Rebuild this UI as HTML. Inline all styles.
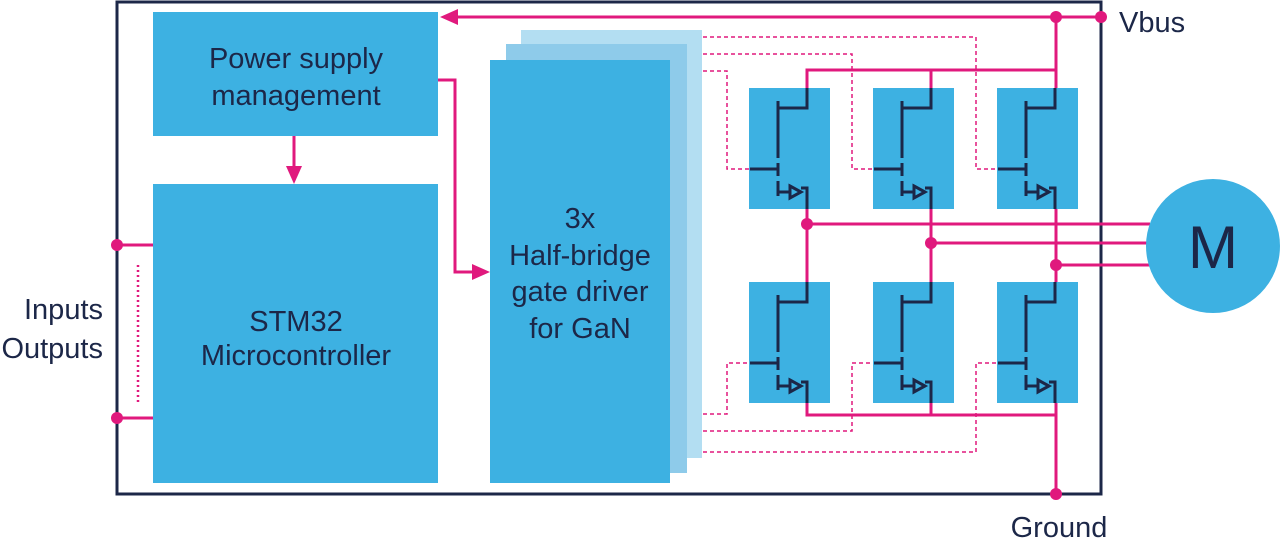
<!DOCTYPE html>
<html><head><meta charset="utf-8"><style>
html,body{margin:0;padding:0;background:#fff;}
svg{display:block;}
text{font-family:"Liberation Sans",sans-serif;fill:#1c2748;}
</style></head><body>
<svg width="1280" height="539" viewBox="0 0 1280 539" xmlns="http://www.w3.org/2000/svg">
<defs>
<g id="tr">
<rect x="0" y="0" width="81" height="121" fill="#3db1e2"/>
<g stroke="#1c2748" stroke-width="3" fill="none">
<path d="M29 13V70"/>
<path d="M29 20H58V0"/>
<path d="M29 75V88"/>
<path d="M1 81H29"/>
<path d="M29 93V108"/>
<path d="M29 104H41"/>
<path d="M41 98L52 104L41 110Z"/>
<path d="M52 100H58V121"/>
</g>
</g>
</defs>
<rect x="117" y="2" width="984" height="492" fill="none" stroke="#1c2748" stroke-width="3"/>
<rect x="521" y="30" width="181" height="428" fill="#b3def2"/>
<rect x="506" y="44" width="181" height="429" fill="#8ecbea"/>
<rect x="490" y="60" width="180" height="423" fill="#3db1e2"/>
<rect x="153" y="12" width="285" height="124" fill="#3db1e2"/>
<rect x="153" y="184" width="285" height="299" fill="#3db1e2"/>
<g stroke="#e0197d" stroke-width="1.5" fill="none" stroke-dasharray="4,3">
<path d="M703 37H976V169H998"/>
<path d="M703 54H852V169H873"/>
<path d="M703 71H727V169H750"/>
<path d="M703 414H727V363H750"/>
<path d="M703 431H852V363H873"/>
<path d="M703 452H976V363H998"/>
</g>
<g stroke="#e0197d" stroke-width="3" fill="none">
<path d="M1101 17H452"/>
<path d="M438 80H455V272H478"/>
<path d="M294 136V170"/>
<path d="M1056 17V88"/>
<path d="M807 88V70H1056"/>
<path d="M931 70V88"/>
<path d="M807 209V282"/>
<path d="M931 209V282"/>
<path d="M1056 209V282"/>
<path d="M807 224H1150"/>
<path d="M931 243H1150"/>
<path d="M1056 265H1150"/>
<path d="M807 403V415H1056V494"/>
<path d="M931 403V415"/>
<path d="M1056 403V415"/>
<path d="M117 245H153"/>
<path d="M117 418H153"/>
</g>
<path d="M138 265V402" stroke="#e0197d" stroke-width="2.5" stroke-dasharray="2,3"/>
<g fill="#e0197d">
<path d="M440 17L458 9V25Z"/>
<path d="M490 272L472 264V280Z"/>
<path d="M294 184L286 166H302Z"/>
<circle cx="1056" cy="17" r="6"/>
<circle cx="1101" cy="17" r="6"/>
<circle cx="807" cy="224" r="6"/>
<circle cx="931" cy="243" r="6"/>
<circle cx="1056" cy="265" r="6"/>
<circle cx="1056" cy="494" r="6"/>
<circle cx="117" cy="245" r="6"/>
<circle cx="117" cy="418" r="6"/>
</g>
<use href="#tr" x="749" y="88"/>
<use href="#tr" x="873" y="88"/>
<use href="#tr" x="997" y="88"/>
<use href="#tr" x="749" y="282"/>
<use href="#tr" x="873" y="282"/>
<use href="#tr" x="997" y="282"/>
<circle cx="1213" cy="246" r="67" fill="#3db1e2"/>
<text x="1213" y="268" font-size="60" text-anchor="middle">M</text>
<g font-size="29" text-anchor="middle">
<text x="296" y="68">Power supply</text>
<text x="296" y="105">management</text>
<text x="296" y="331">STM32</text>
<text x="296" y="365">Microcontroller</text>
<text x="580" y="228">3x</text>
<text x="580" y="265">Half-bridge</text>
<text x="580" y="301">gate driver</text>
<text x="580" y="338">for GaN</text>
</g>
<g font-size="29">
<text x="103" y="319" text-anchor="end">Inputs</text>
<text x="103" y="358" text-anchor="end">Outputs</text>
<text x="1119" y="32">Vbus</text>
<text x="1059" y="537" text-anchor="middle">Ground</text>
</g>
</svg>
</body></html>
